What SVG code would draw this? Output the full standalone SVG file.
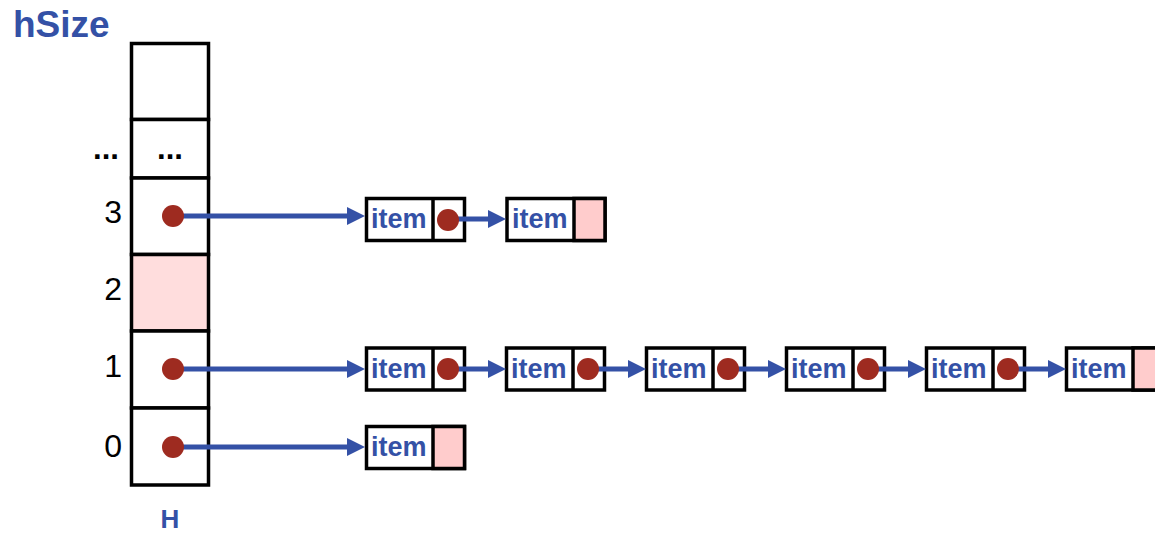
<svg xmlns="http://www.w3.org/2000/svg" width="1155" height="538" viewBox="0 0 1155 538">
<style>
.cell{fill:#fff;stroke:#000;stroke-width:3.5}
.pinkcell{fill:#FFDDDD;stroke:#000;stroke-width:3.5}
.box{fill:#fff;stroke:#000;stroke-width:3.5}
.nil{fill:#FFCCCC;stroke:#000;stroke-width:3.5}
.div{stroke:#000;stroke-width:3.5}
.item{font-family:"Liberation Sans",Arial,sans-serif;font-weight:bold;font-size:27px;fill:#3451A6}
.idx{font-family:"Liberation Sans",Arial,sans-serif;font-size:32px;fill:#000}
.dots{font-family:"Liberation Sans",Arial,sans-serif;font-weight:bold;font-size:31px;fill:#000}
.title{font-family:"Liberation Sans",Arial,sans-serif;font-weight:bold;fill:#3451A6}
.ptr{fill:#9E2B20}
.link{stroke:#3451A6;stroke-width:5;fill:none;marker-end:url(#ah)}
</style>
<defs>
<marker id="ah" markerUnits="userSpaceOnUse" viewBox="0 0 18 18" markerWidth="18" markerHeight="18" refX="2" refY="9" orient="auto">
<path d="M0,0 L18,9 L0,18 z" fill="#3451A6"/>
</marker>
</defs>
<rect width="1155" height="538" fill="#fff"/>
<text class="title" x="13" y="37" font-size="37">hSize</text>
<text class="title" x="170" y="528" font-size="26" text-anchor="middle">H</text>
<g id="array">
<rect class="cell" x="131.5" y="43.5" width="77" height="76"/>
<rect class="cell" x="131.5" y="119.5" width="77" height="58.5"/>
<rect class="cell" x="131.5" y="178" width="77" height="76.5"/>
<rect class="pinkcell" x="131.5" y="254.5" width="77" height="76.5"/>
<rect class="cell" x="131.5" y="331" width="77" height="77"/>
<rect class="cell" x="131.5" y="408" width="77" height="77"/>
<text class="dots" x="170" y="159" text-anchor="middle">...</text>
</g>
<g id="labels">
<text class="dots" x="106" y="159" text-anchor="middle">...</text>
<text class="idx" x="122" y="223" text-anchor="end">3</text>
<text class="idx" x="122" y="300" text-anchor="end">2</text>
<text class="idx" x="122" y="377" text-anchor="end">1</text>
<text class="idx" x="122" y="457" text-anchor="end">0</text>
</g>
<g id="n3a"><rect class="box" x="366.5" y="198.5" width="98" height="42"/><line class="div" x1="433" y1="198.5" x2="433" y2="240.5"/><text class="item" x="371" y="228">item</text></g>
<g id="n3b"><rect class="box" x="507" y="198.5" width="98" height="42"/><rect class="nil" x="574" y="198.5" width="31" height="42"/><text class="item" x="512" y="228">item</text></g>
<g id="n1a"><rect class="box" x="366.5" y="348" width="98" height="42"/><line class="div" x1="433" y1="348" x2="433" y2="390"/><text class="item" x="371" y="378">item</text></g>
<g id="n1b"><rect class="box" x="506.5" y="348" width="98" height="42"/><line class="div" x1="573" y1="348" x2="573" y2="390"/><text class="item" x="511" y="378">item</text></g>
<g id="n1c"><rect class="box" x="646.5" y="348" width="98" height="42"/><line class="div" x1="713" y1="348" x2="713" y2="390"/><text class="item" x="651" y="378">item</text></g>
<g id="n1d"><rect class="box" x="786.5" y="348" width="98" height="42"/><line class="div" x1="853" y1="348" x2="853" y2="390"/><text class="item" x="791" y="378">item</text></g>
<g id="n1e"><rect class="box" x="926.5" y="348" width="98" height="42"/><line class="div" x1="993" y1="348" x2="993" y2="390"/><text class="item" x="931" y="378">item</text></g>
<g id="n1f"><rect class="box" x="1066.5" y="348" width="98" height="42"/><rect class="nil" x="1133" y="348" width="31" height="42"/><text class="item" x="1071" y="378">item</text></g>
<g id="n0a"><rect class="box" x="366.5" y="426.5" width="98" height="42"/><rect class="nil" x="433" y="426.5" width="31.5" height="42"/><text class="item" x="371" y="456">item</text></g>
<g id="connectors">
<line class="link" x1="173" y1="216" x2="349" y2="216"/>
<line class="link" x1="448" y1="219" x2="490" y2="219"/>
<line class="link" x1="173" y1="369" x2="349" y2="369"/>
<line class="link" x1="448" y1="369" x2="490" y2="369"/>
<line class="link" x1="588" y1="369" x2="630" y2="369"/>
<line class="link" x1="728" y1="369" x2="770" y2="369"/>
<line class="link" x1="868" y1="369" x2="910" y2="369"/>
<line class="link" x1="1008" y1="369" x2="1050" y2="369"/>
<line class="link" x1="173" y1="447" x2="349" y2="447"/>
</g>
<g id="pointers">
<circle class="ptr" cx="173" cy="216" r="11"/>
<circle class="ptr" cx="173" cy="369" r="11"/>
<circle class="ptr" cx="173" cy="447" r="11"/>
<circle class="ptr" cx="448" cy="220" r="11"/>
<circle class="ptr" cx="448" cy="369" r="11"/>
<circle class="ptr" cx="588" cy="369" r="11"/>
<circle class="ptr" cx="728" cy="369" r="11"/>
<circle class="ptr" cx="868" cy="369" r="11"/>
<circle class="ptr" cx="1008" cy="369" r="11"/>
</g>
</svg>
